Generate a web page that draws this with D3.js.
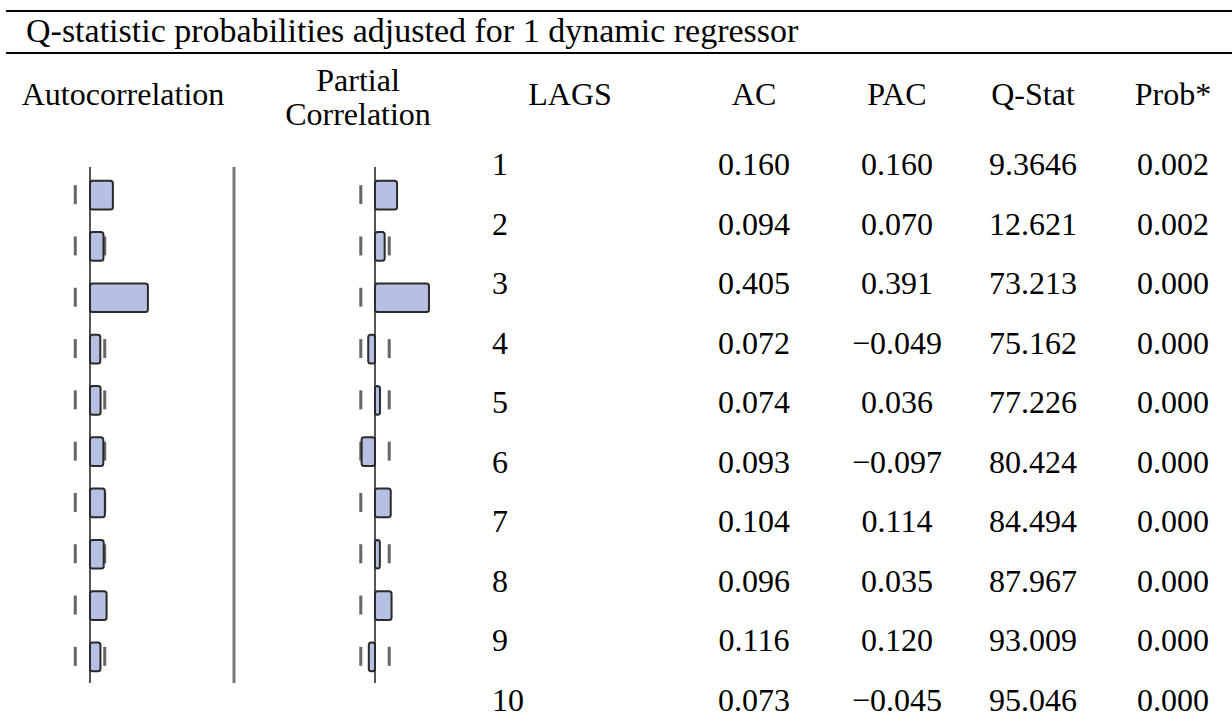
<!DOCTYPE html>
<html><head><meta charset="utf-8">
<script src="https://cdn.jsdelivr.net/npm/d3@7/dist/d3.min.js"></script>
<style>
html,body{margin:0;padding:0;background:#fff;}
text{font-family:"Liberation Serif","Times New Roman",serif;fill:#000;}
</style></head>
<body><svg id="c" width="1232" height="722"></svg>
<script>
const title = "Q-statistic probabilities adjusted for 1 dynamic regressor";
const lags = [1,2,3,4,5,6,7,8,9,10];
const ac   = [0.160,0.094,0.405,0.072,0.074,0.093,0.104,0.096,0.116,0.073];
const pac  = [0.160,0.070,0.391,-0.049,0.036,-0.097,0.114,0.035,0.120,-0.045];
const qstat = ["9.3646","12.621","73.213","75.162","77.226","80.424","84.494","87.967","93.009","95.046"];
const prob  = ["0.002","0.002","0.000","0.000","0.000","0.000","0.000","0.000","0.000","0.000"];
const bound = 0.103;
const colHeaders = ["LAGS","AC","PAC","Q-Stat","Prob*"];

const svg = d3.select("#c");
const W = 1232;
const fs = 32;

// rules
svg.append("line").attr("x1",6).attr("x2",W).attr("y1",11).attr("y2",11).attr("stroke","#000").attr("stroke-width",2);
svg.append("line").attr("x1",6).attr("x2",W).attr("y1",53).attr("y2",53).attr("stroke","#000").attr("stroke-width",2);
svg.append("text").attr("x",26).attr("y",42).attr("font-size",34).text(title);

// headers
svg.append("text").attr("x",123).attr("y",105).attr("text-anchor","middle").attr("font-size",fs).text("Autocorrelation");
svg.append("text").attr("x",358).attr("y",91).attr("text-anchor","middle").attr("font-size",fs).text("Partial");
svg.append("text").attr("x",358).attr("y",125).attr("text-anchor","middle").attr("font-size",fs).text("Correlation");

const fmt = d3.format(".3f");
const fmtSigned = v => (v<0 ? "\u2212" + fmt(-v) : fmt(v));
const cols = [
  {x:570, anchor:"middle", vals: lags.map(String), cellX:492, cellAnchor:"start"},
  {x:754, anchor:"middle", vals: ac.map(fmtSigned)},
  {x:897, anchor:"middle", vals: pac.map(fmtSigned)},
  {x:1033, anchor:"middle", vals: qstat},
  {x:1173, anchor:"middle", vals: prob}
];
const rowY = d3.scaleLinear().domain([1,10]).range([175,711]);
cols.forEach((c,i)=>{
  svg.append("text").attr("x",c.x).attr("y",105).attr("text-anchor","middle").attr("font-size",fs).text(colHeaders[i]);
  svg.selectAll(null).data(c.vals).join("text")
    .attr("x", c.cellX!==undefined ? c.cellX : c.x)
    .attr("text-anchor", c.cellAnchor || c.anchor)
    .attr("y",(d,j)=>rowY(lags[j]))
    .attr("font-size",fs).text(d=>d);
});

// correlogram panels
const barY = d3.scaleBand().domain(lags).range([169.5,682.5]).paddingInner(0.44).paddingOuter(0.22);
function panel(vals, x0, k){
  const x = d3.scaleLinear().domain([-1,1]).range([x0-k, x0+k]);
  const g = svg.append("g");
  [-bound,bound].forEach(b=>{
    g.selectAll(null).data(lags).join("line")
      .attr("x1",x(b)).attr("x2",x(b))
      .attr("y1",d=>barY(d)+barY.bandwidth()/2-10).attr("y2",d=>barY(d)+barY.bandwidth()/2+9)
      .attr("stroke","#666").attr("stroke-width",3);
  });
  g.append("line").attr("x1",x(0)).attr("x2",x(0)).attr("y1",167).attr("y2",683)
    .attr("stroke","#555").attr("stroke-width",2);
  g.selectAll(null).data(vals).join("rect")
    .attr("x",d=>Math.min(x(0),x(d)))
    .attr("y",(d,i)=>barY(lags[i]))
    .attr("width",d=>Math.abs(x(d)-x(0)))
    .attr("height",barY.bandwidth())
    .attr("rx",2.5)
    .attr("fill","#b6c0e2").attr("stroke","#2a2a2a").attr("stroke-width",2);
}
panel(ac, 90, 143);
panel(pac, 375, 138);
svg.append("line").attr("x1",234).attr("x2",234).attr("y1",167).attr("y2",683).attr("stroke","#777").attr("stroke-width",3);
</script></body></html>
